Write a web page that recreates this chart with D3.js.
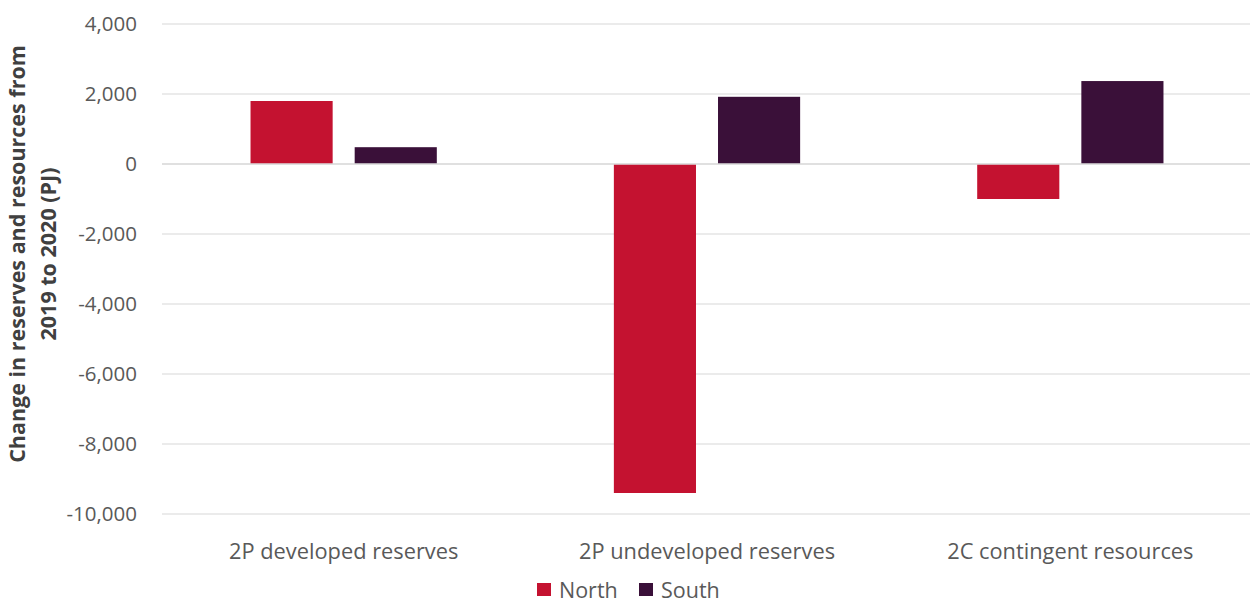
<!DOCTYPE html>
<html>
<head>
<meta charset="utf-8">
<script src="https://cdn.jsdelivr.net/npm/d3@7"></script>
<style>
  html, body { margin: 0; padding: 0; background: #fff; }
  svg { display: block; font-family: "Open Sans", "Noto Sans", sans-serif; }
</style>
</head>
<body>
<svg id="chart" width="1250" height="603"></svg>
<script>
// Change in gas reserves and resources, 2019 to 2020 (PJ)
const categories = ["2P developed reserves", "2P undeveloped reserves", "2C contingent resources"];
const seriesNames = ["North", "South"];
const northValues = [1800, -9400, -1000];
const southValues = [480, 1920, 2370];
const yTicks = [4000, 2000, 0, -2000, -4000, -6000, -8000, -10000];
const colors = { North: "#C41230", South: "#3A1039" };

const svg = d3.select("#chart");
const margin = { left: 162, right: -2, top: 24, bottom: 89 };
const W = 1250, H = 603;

const x = d3.scaleBand()
  .domain(categories)
  .range([margin.left, W - margin.right])
  .paddingInner(0)
  .paddingOuter(0);

const xs = d3.scaleBand()
  .domain(seriesNames)
  .range([0, x.bandwidth()])
  .paddingInner(0.2115)
  .paddingOuter(0.85);

const y = d3.scaleLinear()
  .domain([-10000, 4000])
  .range([H - margin.bottom, margin.top]);

// gridlines
svg.append("g")
  .selectAll("line")
  .data(yTicks)
  .join("line")
  .attr("x1", margin.left)
  .attr("x2", W)
  .attr("y1", d => y(d))
  .attr("y2", d => y(d))
  .attr("stroke", "#e4e4e4")
  .attr("stroke-width", 1.3);

// y axis labels (hyphen as minus sign)
const fmt = d3.format(",");
svg.append("g")
  .selectAll("text")
  .data(yTicks)
  .join("text")
  .attr("x", 137)
  .attr("y", d => y(d))
  .attr("dy", "0.36em")
  .attr("text-anchor", "end")
  .attr("font-size", 20.5)
  .attr("fill", "#595959")
  .text(d => fmt(d).replace("\u2212", "-"));

// bars
const rows = categories.map((c, i) => ({ cat: c, North: northValues[i], South: southValues[i] }));
const groups = svg.append("g")
  .selectAll("g")
  .data(rows)
  .join("g")
  .attr("transform", d => `translate(${x(d.cat)},0)`);

groups.selectAll("rect")
  .data(d => seriesNames.map(s => ({ s, v: d[s] })))
  .join("rect")
  .attr("x", d => xs(d.s))
  .attr("width", xs.bandwidth())
  .attr("y", d => y(Math.max(0, d.v)))
  .attr("height", d => Math.abs(y(d.v) - y(0)))
  .attr("fill", d => colors[d.s]);

// zero line on top
svg.append("line")
  .attr("x1", margin.left).attr("x2", W)
  .attr("y1", y(0)).attr("y2", y(0))
  .attr("stroke", "#dcdcdc").attr("stroke-width", 1.3);

// category labels
svg.append("g")
  .selectAll("text")
  .data(categories)
  .join("text")
  .attr("x", d => x(d) + x.bandwidth() / 2)
  .attr("y", 559)
  .attr("text-anchor", "middle")
  .attr("font-size", 21.8)
  .attr("fill", "#595959")
  .text(d => d);

// y axis title
const title = svg.append("text")
  .attr("transform", "translate(34,254) rotate(-90)")
  .attr("text-anchor", "middle")
  .attr("font-size", 21.5)
  .attr("font-weight", "bold")
  .attr("fill", "#404040");
title.append("tspan").attr("x", 0).attr("dy", "-0.42em").text("Change in reserves  and resources from");
title.append("tspan").attr("x", 0).attr("dy", "1.45em").text("2019 to 2020 (PJ)");

// legend
const legendItems = [
  { name: "North", x: 537 },
  { name: "South", x: 639 }
];
const lg = svg.append("g")
  .selectAll("g")
  .data(legendItems)
  .join("g")
  .attr("transform", d => `translate(${d.x},0)`);
lg.append("rect")
  .attr("x", 0).attr("y", 583)
  .attr("width", 14).attr("height", 13)
  .attr("fill", d => colors[d.name]);
lg.append("text")
  .attr("x", 22).attr("y", 598)
  .attr("font-size", 21.5)
  .attr("fill", "#595959")
  .text(d => d.name);
</script>
</body>
</html>
